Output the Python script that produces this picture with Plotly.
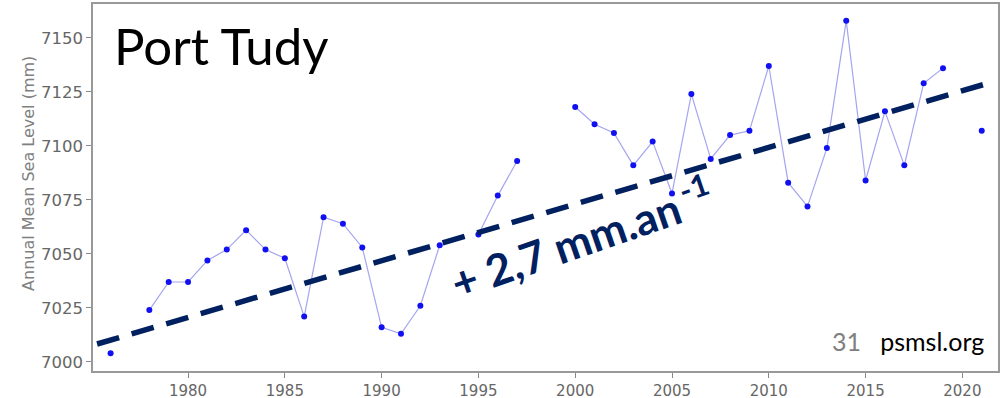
import plotly.graph_objects as go

years = list(range(1976, 2022))
sea_level_mm = [
    7004, None, 7024, 7037, 7037, 7047, 7052, 7061, 7052, 7048,   # 1976-1985
    7021, 7067, 7064, 7053, 7016, 7013, 7026, 7054, None, 7059,   # 1986-1995
    7077, 7093, None, None, 7118, 7110, 7106, 7091, 7102, 7078,   # 1996-2005
    7124, 7094, 7105, 7107, 7137, 7083, 7072, 7099, 7158, 7084,   # 2006-2015
    7116, 7091, 7129, 7136, None, 7107,                           # 2016-2021
]
trend_years = [1975.3, 2021.4]
trend_mm = [7008.3, 7129.2]

x_ticks = [1980, 1985, 1990, 1995, 2000, 2005, 2010, 2015, 2020]
y_ticks = [7000, 7025, 7050, 7075, 7100, 7125, 7150]

title_text = "Port Tudy"
trend_label = "+ 2,7 mm.an&#8201;<sup>-1</sup>"
y_title = "Annual Mean Sea Level (mm)"

fig = go.Figure()
fig.add_trace(go.Scatter(
    x=years, y=sea_level_mm, mode="lines+markers",
    connectgaps=False,
    line=dict(color="rgba(90,90,230,0.55)", width=1.2),
    marker=dict(color="#1010f0", size=6),
    showlegend=False, hoverinfo="x+y",
))
fig.add_trace(go.Scatter(
    x=trend_years, y=trend_mm, mode="lines",
    line=dict(color="#002060", width=5.5, dash="23px,13px"),
    showlegend=False, hoverinfo="skip",
))

axis_common = dict(
    showgrid=False, zeroline=False, showline=True, mirror=True,
    linecolor="#999999", linewidth=1.5,
    ticks="outside", ticklen=5, tickcolor="#888888", tickwidth=1,
    automargin=False,
)
fig.update_xaxes(range=[1975.09, 2021.84], tickvals=x_ticks,
                 tickfont=dict(family="DejaVu Sans", size=15, color="#666666"),
                 **axis_common)
fig.update_yaxes(range=[6995.8, 7165.7], tickvals=y_ticks,
                 tickfont=dict(family="DejaVu Sans", size=16.5, color="#666666"),
                 **axis_common)

fig.add_annotation(text=y_title, xref="paper", yref="paper",
                   x=-0.0707, y=0.537, xanchor="center", yanchor="middle",
                   textangle=-90, showarrow=False,
                   font=dict(family="DejaVu Sans", size=16, color="#808080"))
fig.add_annotation(text=title_text, xref="paper", yref="paper",
                   x=0.021, y=0.886, xanchor="left", yanchor="middle", showarrow=False,
                   font=dict(family="Lato", size=51, color="#000000"))
fig.add_annotation(text=trend_label, xref="x", yref="y",
                   x=2000.3, y=7058.0, xanchor="center", yanchor="middle",
                   textangle=-19, showarrow=False,
                   font=dict(family="Lato", size=44, color="#002060", weight="bold"))
fig.add_annotation(text="<span style='color:#808080'>31</span>   psmsl.org",
                   xref="paper", yref="paper", x=0.987, y=0.035,
                   xanchor="right", yanchor="bottom", showarrow=False,
                   font=dict(family="Lato", size=25, color="#000000"))

fig.update_layout(
    width=1000, height=398,
    margin=dict(l=93, r=2, t=4, b=27),
    paper_bgcolor="white", plot_bgcolor="white",
)
fig.write_html("out.html", config={"displayModeBar": False},
               post_script="document.body.style.margin='0';")
